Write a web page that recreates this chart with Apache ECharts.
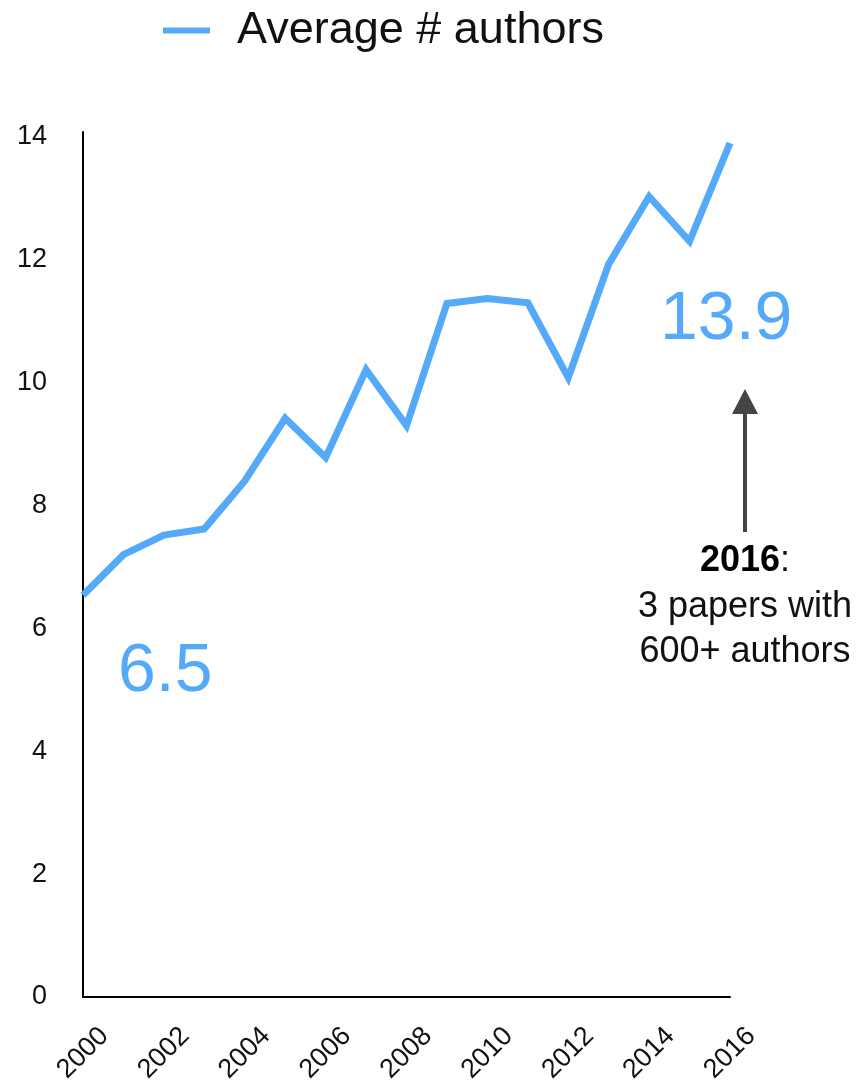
<!DOCTYPE html>
<html>
<head>
<meta charset="utf-8">
<script src="https://cdn.jsdelivr.net/npm/echarts@6/dist/echarts.min.js"></script>
<style>html,body{margin:0;padding:0;background:#fff;}#c{width:859px;height:1089px;}</style>
</head>
<body>
<div id="c"></div>
<script>
const years = ['2000','2001','2002','2003','2004','2005','2006','2007','2008','2009','2010','2011','2012','2013','2014','2015','2016'];
const avgAuthors = [6.54, 7.2, 7.52, 7.62, 8.4, 9.42, 8.78, 10.21, 9.3, 11.29, 11.37, 11.3, 10.08, 11.93, 13.03, 12.3, 13.9];
const seriesName = 'Average # authors';
const noteTitle = '2016';
const noteLines = ['3 papers with', '600+ authors'];

const blue = '#55A9F9';
const font = '"Liberation Sans", Arial, sans-serif';
const chart = echarts.init(document.getElementById('c'), null, {renderer: 'canvas'});

chart.setOption({
  backgroundColor: '#fff',
  animation: false,
  legend: {
    left: 158, top: 3,
    icon: 'rect', itemWidth: 47, itemHeight: 6,
    textStyle: {fontFamily: font, fontSize: 45, color: '#111', padding: [0, 0, 0, 22]},
    data: [seriesName]
  },
  grid: {left: 83, right: 129, top: 132, bottom: 92, containLabel: false},
  xAxis: {
    type: 'category', data: years, boundaryGap: false,
    axisLine: {lineStyle: {color: '#000', width: 2}},
    axisTick: {show: false},
    axisLabel: {interval: 1, rotate: 45, margin: 56, align: 'center', verticalAlign: 'middle',
      fontFamily: font, fontSize: 27, color: '#111'},
    splitLine: {show: false}
  },
  yAxis: {
    type: 'value', min: 0, max: 14.08, interval: 2,
    axisLine: {show: true, lineStyle: {color: '#000', width: 2}},
    axisTick: {show: false},
    axisLabel: {margin: 36, fontFamily: font, fontSize: 27, color: '#111',
      showMaxLabel: false,
      formatter: v => (v % 2 === 0 ? String(v) : '')},
    splitLine: {show: false}
  },
  series: [{
    name: seriesName, type: 'line', data: avgAuthors,
    symbol: 'none', lineStyle: {color: blue, width: 7, join: 'miter'}, itemStyle: {color: blue}
  }],
  graphic: [
    {type: 'text', left: 118, top: 638, style: {text: avgAuthors[0].toFixed(1), fontFamily: font, fontSize: 68, fill: blue}},
    {type: 'text', left: 660, top: 286, style: {text: avgAuthors[avgAuthors.length - 1].toFixed(1), fontFamily: font, fontSize: 68, fill: blue}},
    {type: 'line', shape: {x1: 745, y1: 532, x2: 745, y2: 410}, style: {stroke: '#444', lineWidth: 4}},
    {type: 'polygon', shape: {points: [[745, 389], [732, 414], [758, 414]]}, style: {fill: '#444'}},
    {type: 'text', x: 745, y: 561, style: {
      text: '{b|' + noteTitle + '}:', align: 'center', verticalAlign: 'middle', fontFamily: font, fontSize: 36, fill: '#111',
      rich: {b: {fontWeight: 'bold', fontFamily: font, fontSize: 36, fill: '#000'}}}},
    {type: 'text', x: 745, y: 607, style: {text: noteLines[0], align: 'center', verticalAlign: 'middle', fontFamily: font, fontSize: 36, fill: '#111'}},
    {type: 'text', x: 745, y: 652, style: {text: noteLines[1], align: 'center', verticalAlign: 'middle', fontFamily: font, fontSize: 36, fill: '#111'}}
  ]
});
</script>
</body>
</html>
